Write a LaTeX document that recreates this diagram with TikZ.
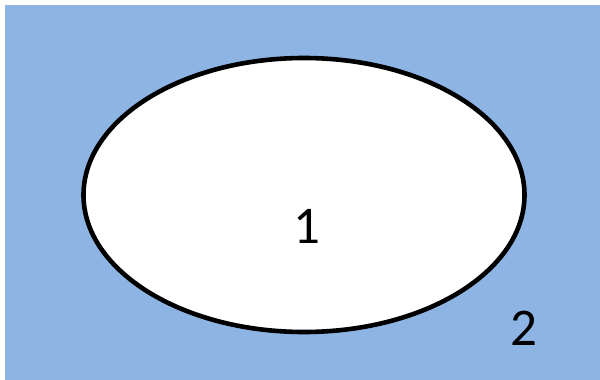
\documentclass[tikz,border=0pt]{standalone}
\usepackage{fontspec}
\setmainfont{Carlito}
\usepackage{xcolor}
\usetikzlibrary{shapes.geometric}

\definecolor{regionblue}{RGB}{142,180,227}

\begin{document}
\begin{tikzpicture}[x=1pt, y=-1pt, every node/.style={inner sep=0pt, font=\fontsize{53}{53}\selectfont}]
  \useasboundingbox (0,0) rectangle (600,380);
  % region 2: the outside
  \fill[regionblue] (5,5) rectangle (600,380);
  % region 1: the set
  \node[ellipse, draw, fill=white, line width=4.6pt, minimum width=441pt, minimum height=274pt] (set) at (304,195) {};
  \node (one) at (307,226) {1};
  \node (two) at (524,328) {2};
\end{tikzpicture}
\end{document}
